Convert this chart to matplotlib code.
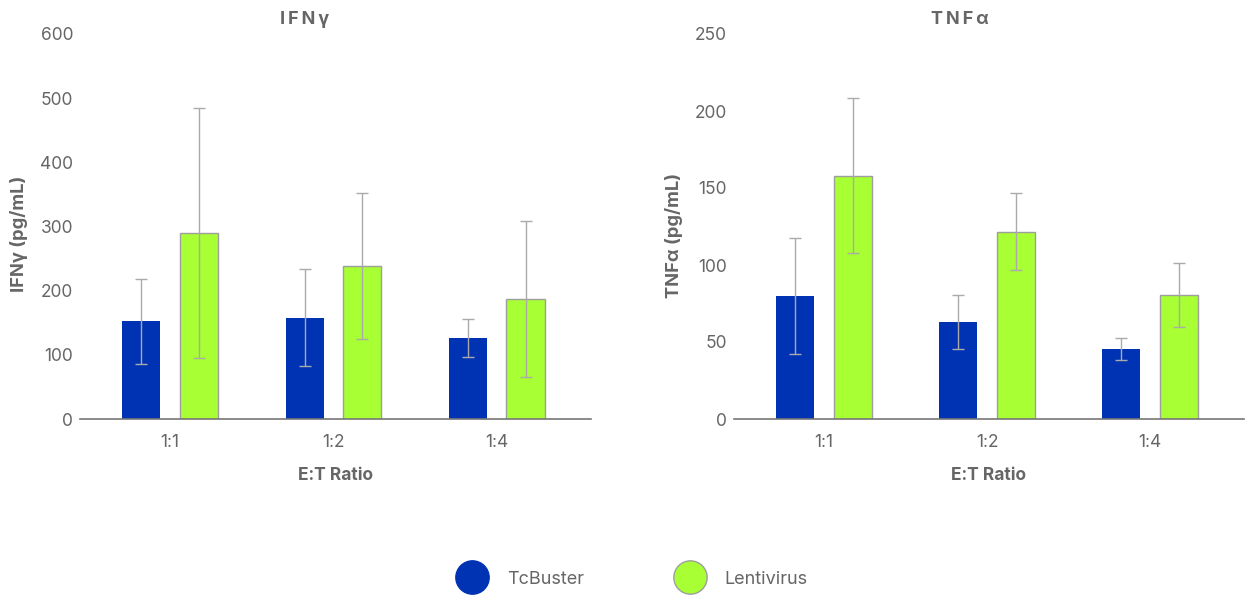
import matplotlib
matplotlib.use("Agg")
import matplotlib.pyplot as plt
from matplotlib.lines import Line2D
import numpy as np

plt.rcParams['font.family'] = ['Inter', 'DejaVu Sans']

# E:T ratio groups
ratios = ["1:1", "1:2", "1:4"]
series_names = ["TcBuster", "Lentivirus"]

# IFNγ secretion (pg/mL): mean and error
ifng_tcbuster = [152, 158, 126]
ifng_tcbuster_err = [66, 76, 30]
ifng_lenti = [290, 238, 187]
ifng_lenti_err = [195, 114, 122]

# TNFα secretion (pg/mL): mean and error
tnfa_tcbuster = [80, 63, 45.5]
tnfa_tcbuster_err = [37.5, 17.7, 7.3]
tnfa_lenti = [158, 121.5, 80.5]
tnfa_lenti_err = [50.5, 25, 21]

BLUE = "#0033B4"
GREEN = "#A8FF33"
TEXT = "#666666"
ERR = "#AAAAAA"

W, H = 1246, 597
fig = plt.figure(figsize=(W / 100, H / 100), dpi=100)


def px_axes(x0, x1, y_top, y_bottom):
    return fig.add_axes([x0 / W, 1 - y_bottom / H, (x1 - x0) / W, (y_bottom - y_top) / H])


def draw_panel(ax, tc, tc_err, lv, lv_err, ymax, step, ylabel):
    x = np.arange(len(ratios))
    bw = 0.233
    off = 0.176
    ax.bar(x - off, tc, bw, color=BLUE, edgecolor="none", zorder=2)
    ax.bar(x + off, lv, bw, color=GREEN, edgecolor="#9E9E9E", linewidth=1.0, zorder=2)
    ek = dict(fmt="none", ecolor=ERR, elinewidth=1.0, capsize=4, capthick=1.0, zorder=3)
    ax.errorbar(x - off, tc, yerr=tc_err, **ek)
    ax.errorbar(x + off, lv, yerr=lv_err, **ek)
    ax.set_xlim(-0.552, 2.577)
    ax.set_ylim(0, ymax)
    ax.set_yticks(np.arange(0, ymax + 1, step))
    ax.set_xticks(x)
    ax.set_xticklabels(ratios)
    for s in ("top", "right", "left"):
        ax.spines[s].set_visible(False)
    ax.spines["bottom"].set_color("#777777")
    ax.spines["bottom"].set_linewidth(1.2)
    ax.tick_params(axis="both", length=0, labelsize=12.5, colors=TEXT)
    ax.tick_params(axis="y", pad=5)
    ax.tick_params(axis="x", pad=11)
    ax.set_xlabel("E:T Ratio", fontsize=12.5, fontweight="bold", color=TEXT, labelpad=11)
    ax.set_ylabel(ylabel, fontsize=13.2, fontweight="bold", color=TEXT)


ax1 = px_axes(80, 591, 34, 419)
draw_panel(ax1, ifng_tcbuster, ifng_tcbuster_err, ifng_lenti, ifng_lenti_err,
           600, 100, "IFNγ (pg/mL)")
ax1.yaxis.set_label_coords((28 - 80) / 511, 0.5 + (385 / 2 - (234 - 34)) / 385)

ax2 = px_axes(734, 1244, 34, 419)
draw_panel(ax2, tnfa_tcbuster, tnfa_tcbuster_err, tnfa_lenti, tnfa_lenti_err,
           250, 50, "TNFα (pg/mL)")
ax2.yaxis.set_label_coords((683 - 734) / 510, 0.5 + (385 / 2 - (235 - 34)) / 385)

# Panel titles with letter spacing
hs = "\u2009"
fig.text(305 / W, 1 - 20 / H, hs.join("IFNγ"), ha="center", va="center",
         fontsize=13, fontweight="bold", color=TEXT)
fig.text(960 / W, 1 - 20 / H, hs.join("TNFα"), ha="center", va="center",
         fontsize=13, fontweight="bold", color=TEXT)

# Legend
handles = [
    Line2D([], [], marker="o", linestyle="none", markersize=24,
           markerfacecolor=BLUE, markeredgecolor=BLUE, label=series_names[0]),
    Line2D([], [], marker="o", linestyle="none", markersize=24,
           markerfacecolor=GREEN, markeredgecolor="#9E9E9E", markeredgewidth=1.0,
           label=series_names[1]),
]
leg = fig.legend(handles=handles, loc="center", bbox_to_anchor=(631 / W, 1 - 579 / H),
                 ncol=2, frameon=False, fontsize=13, handletextpad=0.9,
                 columnspacing=4.9, labelcolor=TEXT)

fig.savefig("out.png", dpi=100, facecolor="white")
